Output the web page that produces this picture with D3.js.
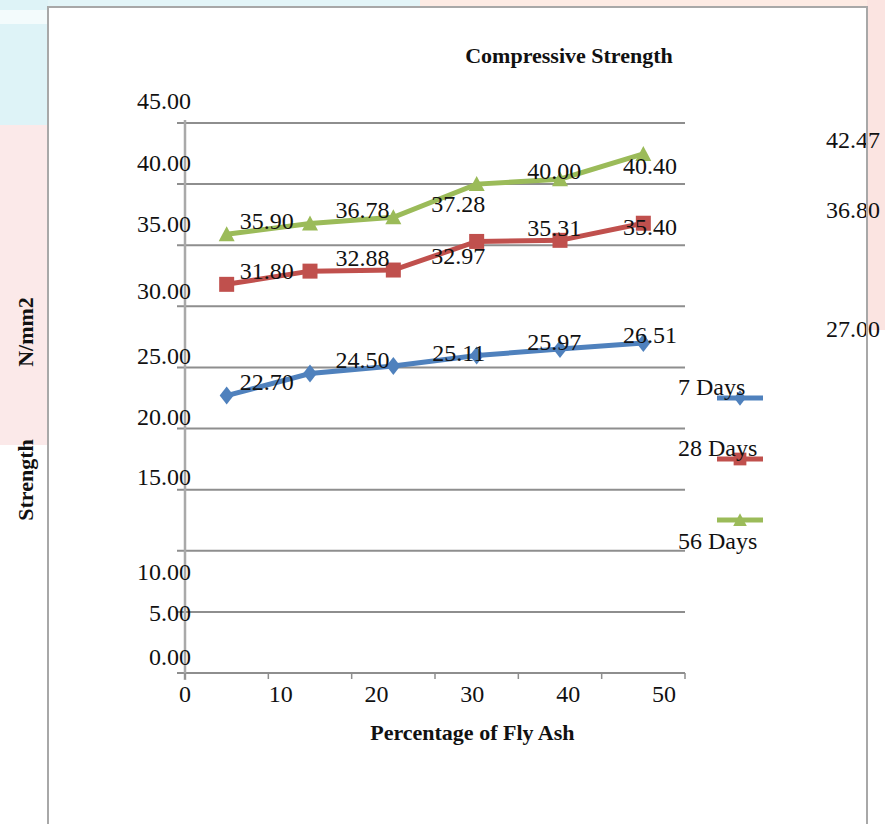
<!DOCTYPE html>
<html>
<head>
<meta charset="utf-8">
<script src="https://cdn.jsdelivr.net/npm/d3@7"></script>
<style>
    body { margin: 0; background: #ffffff; }
    svg text { font-family: "Liberation Serif", "Times New Roman", serif; fill: #111; }
    .bold { font-weight: bold; }
</style>
</head>
<body>
<div id="chart-area"></div>
<script>

// values
const flyAsh = [0, 10, 20, 30, 40, 50];
const days7 = [22.70, 24.50, 25.11, 25.97, 26.51, 27.00];
const days28 = [31.80, 32.88, 32.97, 35.31, 35.40, 36.80];
const days56 = [35.90, 36.78, 37.28, 40.00, 40.40, 42.47];
const seriesNames = ["7 Days", "28 Days", "56 Days"];
const yTicks = [0, 5, 10, 15, 20, 25, 30, 35, 40, 45];
const xTickLabels = [0, 10, 20, 30, 40, 50];

class LineVis {

    constructor(parentElement) {
        this.parentElement = parentElement;
        this.initVis();
    }

    initVis() {
        let vis = this;

        vis.W = 885;
        vis.H = 824;
        vis.margin = {top: 123, right: 200, bottom: 151, left: 185};
        vis.width = vis.W - vis.margin.left - vis.margin.right;
        vis.height = vis.H - vis.margin.top - vis.margin.bottom;

        vis.root = d3.select("#" + vis.parentElement).append("svg")
            .attr("width", vis.W)
            .attr("height", vis.H);

        // faint watermark of the scanned page behind the chart box
        let bg = vis.root.append("g");
        bg.append("rect").attr("x", 0).attr("y", 0).attr("width", 420).attr("height", 8).attr("fill", "#e3f5f8");
        bg.append("rect").attr("x", 420).attr("y", 0).attr("width", 465).attr("height", 8).attr("fill", "#fdebe4");
        bg.append("rect").attr("x", 0).attr("y", 0).attr("width", 48).attr("height", 125).attr("fill", "#def3f7");
        bg.append("rect").attr("x", 0).attr("y", 10).attr("width", 48).attr("height", 14).attr("fill", "#f3fbfc");
        bg.append("rect").attr("x", 0).attr("y", 125).attr("width", 48).attr("height", 320).attr("fill", "#fbe9e9");
        bg.append("rect").attr("x", 867).attr("y", 0).attr("width", 18).attr("height", 330).attr("fill", "#fbe4e1");

        // chart box
        vis.root.append("rect")
            .attr("x", 48).attr("y", 7)
            .attr("width", 819).attr("height", 840)
            .attr("fill", "#ffffff");

        vis.svg = vis.root.append("g")
            .attr("transform", "translate(" + vis.margin.left + "," + vis.margin.top + ")");

        // scales
        vis.x = d3.scaleBand()
            .domain(flyAsh)
            .range([0, vis.width]);

        // the printed labels of the x axis run on their own spacing
        vis.xLabel = d3.scaleLinear()
            .domain([0, 52.2])
            .range([0, vis.width]);

        vis.y = d3.scaleLinear()
            .domain([0, 45])
            .range([vis.height, 0]);

        vis.colors = ["#4F81BD", "#C0504D", "#9BBB59"];

        vis.wrangleData();
    }

    wrangleData() {
        let vis = this;

        vis.displayData = [days7, days28, days56].map((vals, s) => ({
            name: seriesNames[s],
            color: vis.colors[s],
            values: vals.map((v, i) => ({cat: flyAsh[i], value: v, idx: i}))
        }));

        vis.updateVis();
    }

    marker(s) {
        // 0 diamond, 1 square, 2 triangle
        if (s === 0) return "M0,-9L7,0L0,9L-7,0Z";
        if (s === 1) return "M-7.5,-7.5H7.5V7.5H-7.5Z";
        return "M0,-8L8,7H-8Z";
    }

    updateVis() {
        let vis = this;

        // horizontal gridlines
        vis.svg.append("g").selectAll("line")
            .data(yTicks)
            .join("line")
            .attr("x1", -8)
            .attr("x2", vis.width)
            .attr("y1", d => vis.y(d))
            .attr("y2", d => vis.y(d))
            .attr("stroke", "#8e8e8e")
            .attr("stroke-width", 2);

        // vertical axis line
        vis.svg.append("line")
            .attr("x1", 0).attr("x2", 0)
            .attr("y1", vis.y(45) - 3)
            .attr("y2", vis.height + 7)
            .attr("stroke", "#a9a9a9")
            .attr("stroke-width", 2.5);

        // y tick labels, some sit off their gridline in the scan
        let nudge = {30: 6, 25: 10, 20: 10, 15: 9, 10: 43, 5: 23, 0: 6};
        vis.svg.append("g").selectAll("text")
            .data(yTicks)
            .join("text")
            .attr("x", 6)
            .attr("y", d => vis.y(d) - 22 + (nudge[d] || 0))
            .attr("dy", "0.35em")
            .attr("text-anchor", "end")
            .attr("font-size", 24)
            .text(d => d.toFixed(2));

        // x tick marks on the category boundaries
        let bounds = flyAsh.map(d => vis.x(d)).concat([vis.width]);
        vis.svg.append("g").selectAll("line")
            .data(bounds)
            .join("line")
            .attr("x1", d => d).attr("x2", d => d)
            .attr("y1", vis.height)
            .attr("y2", vis.height + 6)
            .attr("stroke", "#8e8e8e")
            .attr("stroke-width", 1.5);

        vis.svg.append("g").selectAll("text")
            .data(xTickLabels)
            .join("text")
            .attr("x", d => vis.xLabel(d))
            .attr("y", vis.height + 29)
            .attr("text-anchor", "middle")
            .attr("font-size", 24)
            .text(d => d);

        // lines
        let line = d3.line()
            .x(d => vis.x(d.cat) + vis.x.bandwidth() / 2)
            .y(d => vis.y(d.value));

        let series = vis.svg.append("g").selectAll("g")
            .data(vis.displayData)
            .join("g");

        series.append("path")
            .attr("d", d => line(d.values))
            .attr("fill", "none")
            .attr("stroke", d => d.color)
            .attr("stroke-width", 5);

        series.each(function (sd, s) {
            d3.select(this).selectAll("path.mk")
                .data(sd.values)
                .join("path")
                .attr("class", "mk")
                .attr("d", vis.marker(s))
                .attr("fill", sd.color)
                .attr("transform", d => "translate(" + (vis.x(d.cat) + vis.x.bandwidth() / 2) + "," + vis.y(d.value) + ")");
        });

        // data labels (in the scan they drift right of their points, last one pushed outside)
        let labels = vis.displayData.flatMap(sd => sd.values);
        vis.svg.append("g").selectAll("text")
            .data(labels)
            .join("text")
            .attr("x", d => d.idx < flyAsh.length - 1 ? vis.xLabel(flyAsh[d.idx + 1]) + 13 : vis.width + 141)
            .attr("y", d => vis.y(d.value) - 14)
            .attr("dy", "0.35em")
            .attr("text-anchor", d => d.idx < flyAsh.length - 1 ? "end" : "start")
            .attr("font-size", 24)
            .text(d => d.value.toFixed(2));

        // legend
        let legend = vis.svg.append("g")
            .attr("transform", "translate(" + (vis.width + 55) + "," + (vis.y(22.5)) + ")");

        let textDy = [-11, -11, 21];
        let items = legend.selectAll("g")
            .data(vis.displayData)
            .join("g")
            .attr("transform", (d, i) => "translate(0," + (i * 61) + ")");

        items.append("line")
            .attr("x1", -23).attr("x2", 23)
            .attr("stroke", d => d.color)
            .attr("stroke-width", 5);

        items.append("path")
            .attr("d", (d, i) => vis.marker(i))
            .attr("fill", d => d.color)
            .attr("transform", "scale(0.85)");

        items.append("text")
            .attr("x", -62)
            .attr("y", (d, i) => textDy[i])
            .attr("dy", "0.35em")
            .attr("font-size", 24)
            .text(d => d.name);

        // titles
        vis.root.append("text")
            .attr("class", "bold")
            .attr("x", 569).attr("y", 63)
            .attr("text-anchor", "middle")
            .attr("font-size", 22)
            .text("Compressive Strength");

        vis.root.append("text")
            .attr("class", "bold")
            .attr("x", vis.margin.left + vis.xLabel(30))
            .attr("y", vis.margin.top + vis.height + 67)
            .attr("text-anchor", "middle")
            .attr("font-size", 22)
            .text("Percentage of Fly Ash");

        vis.root.append("text")
            .attr("class", "bold")
            .attr("transform", "translate(33,480) rotate(-90)")
            .attr("text-anchor", "middle")
            .attr("font-size", 22)
            .text("Strength");

        vis.root.append("text")
            .attr("class", "bold")
            .attr("transform", "translate(33,332) rotate(-90)")
            .attr("text-anchor", "middle")
            .attr("font-size", 22)
            .text("N/mm2");

        // chart box border on top
        vis.root.append("rect")
            .attr("x", 48).attr("y", 7)
            .attr("width", 819).attr("height", 840)
            .attr("fill", "none")
            .attr("stroke", "#a8a8a8")
            .attr("stroke-width", 2);
    }
}

new LineVis("chart-area");
</script>
</body>
</html>
